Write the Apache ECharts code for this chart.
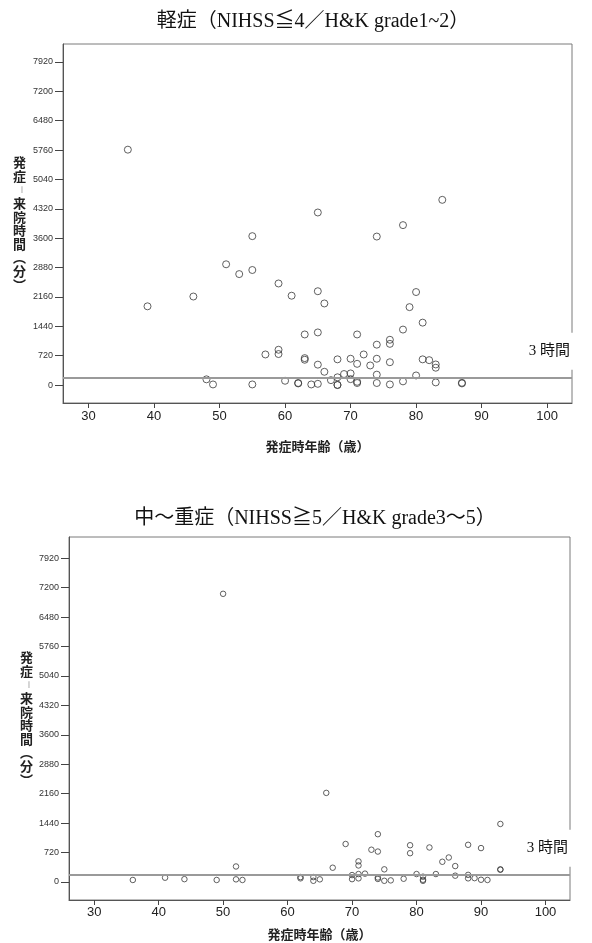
<!DOCTYPE html>
<html lang="ja">
  <head>
    <meta charset="UTF-8" />
    <title>発症時年齢と発症-来院時間</title>
    <script src="https://cdn.jsdelivr.net/npm/echarts@6/dist/echarts.min.js"></script>
    <style>
      * { margin: 0; padding: 0; box-sizing: border-box; }
      body { background: #fff; overflow: hidden; }
      #chart { width: 592px; height: 943px; }
    </style>
  </head>
  <body>
    <div id="chart"></div>
    <script>
      // 軽症: [年齢, 分]
      const mildPoints = [
        [36, 5770], [55, 3650], [65, 4230], [74, 3640], [78, 3920], [84, 4540],
        [51, 2960], [53, 2720], [55, 2820], [59, 2490], [46, 2170], [39, 1930],
        [61, 2190], [65, 2300], [66, 2000], [80, 2280], [79, 1910], [81, 1530],
        [78, 1360], [63, 1240], [65, 1290], [71, 1240], [76, 1110], [76, 1010],
        [74, 990], [59, 865], [59, 760], [57, 750], [63, 660], [63, 620],
        [68, 630], [70, 645], [72, 750], [74, 645], [71, 520], [73, 480],
        [65, 500], [76, 560], [81, 630], [82, 610], [83, 505], [83, 425],
        [66, 325], [69, 270], [70, 285], [68, 190], [74, 255], [80, 235],
        [67, 120], [70, 145], [48, 140], [49, 15], [55, 15], [60, 105],
        [62, 50], [62, 40], [64, 15], [65, 30], [68, 5], [68, 0],
        [71, 80], [71, 50], [74, 50], [76, 15], [78, 90], [83, 65],
        [87, 55], [87, 40]
      ];

      // 中〜重症: [年齢, 分]
      const severePoints = [
        [50, 7050], [66, 2180], [93, 1420], [74, 1170], [69, 930], [79, 900],
        [82, 845], [88, 910], [90, 830], [73, 790], [74, 745], [79, 705],
        [85, 600], [84, 495], [86, 390], [52, 380], [71, 505], [71, 405],
        [67, 350], [75, 310], [93, 310], [93, 300], [72, 205], [71, 195],
        [70, 170], [80, 195], [83, 195], [86, 155], [88, 175], [74, 110],
        [74, 75], [81, 130], [62, 120], [62, 90], [64, 120], [64, 30],
        [65, 65], [70, 70], [71, 90], [75, 30], [76, 40], [78, 80],
        [81, 55], [81, 30], [88, 90], [89, 95], [90, 55], [91, 50],
        [36, 50], [41, 105], [44, 70], [49, 50], [52, 65], [53, 50]
      ];

      const yTicks = [0, 720, 1440, 2160, 2880, 3600, 4320, 5040, 5760, 6480, 7200, 7920];
      const xTicks = [30, 40, 50, 60, 70, 80, 90, 100];
      const threeHours = 180;

      const titles = [
        "軽症（NIHSS≦4／H&K grade1~2）",
        "中〜重症（NIHSS≧5／H&K grade3〜5）"
      ];

      const serif = '"Liberation Serif", "Noto Sans CJK JP", serif';
      const gothic = '"Noto Sans CJK JP", sans-serif';

      function xAxisFor(gridIndex, nameGap, labelMargin) {
        return {
          type: "value",
          gridIndex: gridIndex,
          min: 26.1,
          max: 103.8,
          name: "発症時年齢（歳）",
          nameLocation: "middle",
          nameGap: nameGap,
          nameTextStyle: { fontFamily: gothic, fontWeight: "bold", fontSize: 13, color: "#222" },
          splitLine: { show: false },
          axisLine: { onZero: false, lineStyle: { color: "#555" } },
          axisTick: { customValues: xTicks, length: 5, lineStyle: { color: "#444" } },
          axisLabel: {
            customValues: xTicks,
            margin: labelMargin,
            fontFamily: '"Liberation Sans", Arial, sans-serif',
            fontSize: 13,
            color: "#222"
          }
        };
      }

      function yAxisFor(gridIndex, max, nameGap) {
        return {
          type: "value",
          gridIndex: gridIndex,
          min: -440,
          max: max,
          // 縦書き
          name: "発\n症\n{d|︱}\n来\n院\n時\n間\n︵\n分\n︶",
          nameLocation: "middle",
          nameRotate: 0,
          nameGap: nameGap,
          nameTextStyle: {
            fontFamily: gothic,
            fontWeight: "bold",
            fontSize: 13,
            lineHeight: 13.6,
            color: "#222",
            rich: {
              d: { fontFamily: gothic, fontWeight: "bold", fontSize: 8, lineHeight: 13.6, color: "#222" }
            }
          },
          splitLine: { show: false },
          axisLine: { onZero: false, lineStyle: { color: "#555" } },
          axisTick: { customValues: yTicks, length: 8, lineStyle: { color: "#444" } },
          axisLabel: {
            customValues: yTicks,
            margin: 10,
            formatter: (v) => String(v),
            fontFamily: '"Liberation Sans", Arial, sans-serif',
            fontSize: 9,
            color: "#333"
          }
        };
      }

      function scatterFor(index, data, size) {
        return {
          type: "scatter",
          xAxisIndex: index,
          yAxisIndex: index,
          data: data,
          symbol: "circle",
          symbolSize: size,
          itemStyle: { color: "rgba(0,0,0,0)", borderColor: "#3a3a3a", borderWidth: 1 },
          z: 3,
          markLine: {
            silent: true,
            symbol: "none",
            lineStyle: { color: "#9a9a9a", width: 2, type: "solid" },
            label: {
              show: true,
              position: "insideEndTop",
              formatter: "3 時間",
              fontFamily: serif,
              fontSize: 15,
              color: "#111",
              backgroundColor: "#fff",
              padding: [11, 4, 11, 6],
              offset: [7, -3]
            },
            data: [{ yAxis: threeHours }]
          }
        };
      }

      const chart = echarts.init(document.getElementById("chart"));

      chart.setOption({
        animation: false,
        backgroundColor: "#fff",
        title: [
          {
            text: titles[0],
            left: 308,
            textAlign: "center",
            top: 7,
            textStyle: { fontFamily: serif, fontWeight: "normal", fontSize: 20, color: "#111" }
          },
          {
            text: titles[1],
            left: 310,
            textAlign: "center",
            top: 504,
            textStyle: { fontFamily: serif, fontWeight: "normal", fontSize: 20, color: "#111" }
          }
        ],
        grid: [
          { left: 63, right: 20, top: 44, height: 359, show: true, borderColor: "#7a7a7a", borderWidth: 1 },
          { left: 69, right: 22, top: 537, height: 363, show: true, borderColor: "#7a7a7a", borderWidth: 1 }
        ],
        xAxis: [xAxisFor(0, 37, 7), xAxisFor(1, 28, 6)],
        yAxis: [yAxisFor(0, 8360, 37), yAxisFor(1, 8440, 36)],
        series: [scatterFor(0, mildPoints, 7), scatterFor(1, severePoints, 5.5)]
      });
    </script>
  </body>
</html>
